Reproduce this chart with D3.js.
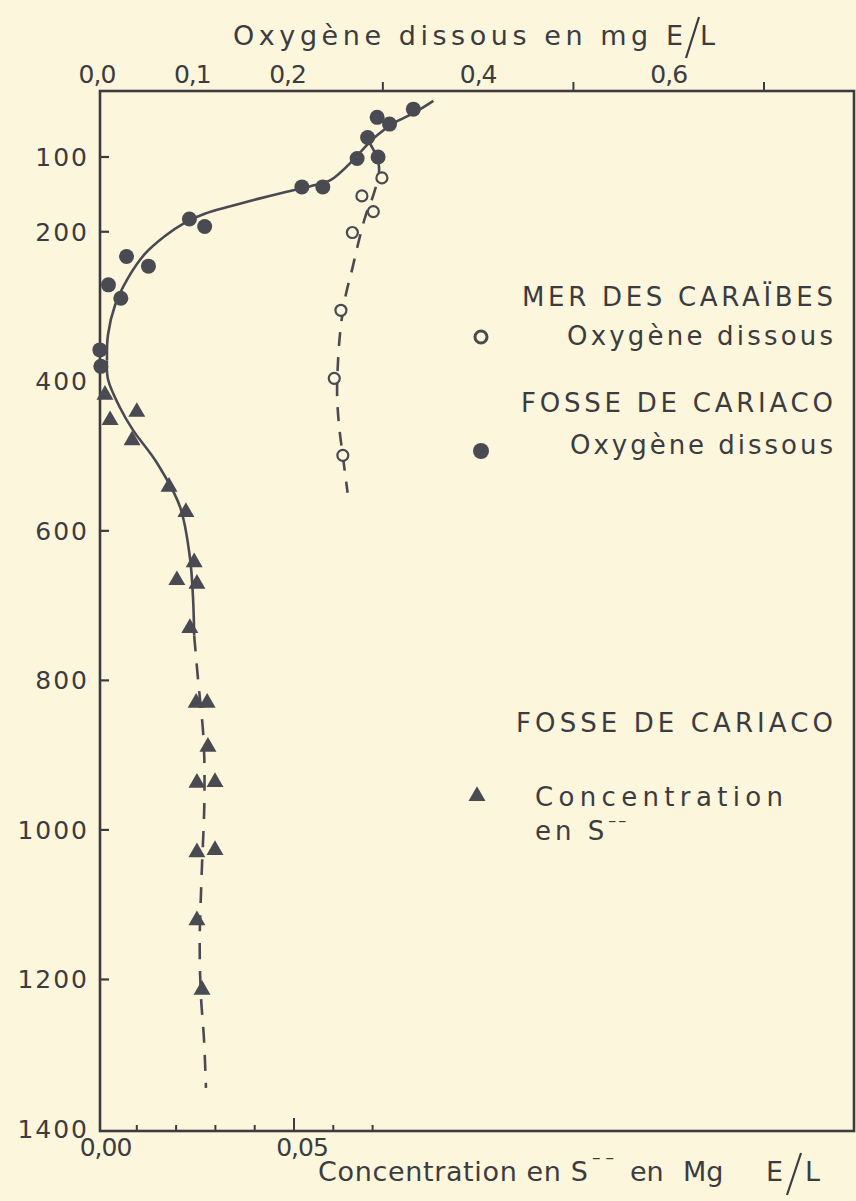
<!DOCTYPE html>
<html>
<head>
<meta charset="utf-8">
<script src="https://cdn.jsdelivr.net/npm/d3@7/dist/d3.min.js"></script>
<style>
  html, body { margin: 0; padding: 0; background: #fcf6dc; }
  svg { display: block; }
  text { font-family: "DejaVu Sans", sans-serif; fill: #3c3c40; }
</style>
</head>
<body>
<svg id="chart" width="856" height="1201"></svg>
<script>
// Depth axis (m)
const depthTicks = [100, 200, 400, 600, 800, 1000, 1200, 1400];
const depthMarks = [100, 200, 600, 800, 1000, 1200];

// Oxygen axis (top), mg E/L
const oxyLabels = [0, 0.1, 0.2, 0.4, 0.6];
const oxyMarks = [0.3, 0.5, 0.7];

// Sulphide axis (bottom), mg E/L
const sulfLabels = [0, 0.05];
const sulfMarks = [0.01, 0.02, 0.03, 0.04, 0.05, 0.06, 0.07];

// Mer des Caraïbes: dissolved oxygen [O2, depth]
const caribO2 = [
  [0.299, 128], [0.278, 152], [0.290, 173], [0.268, 201],
  [0.256, 305], [0.249, 396], [0.258, 499]
];
// Mer des Caraïbes: smoothed profile [O2, depth]
const caribFit = [
  [0.284, 77], [0.294, 101], [0.296, 120], [0.290, 151], [0.282, 178],
  [0.275, 211], [0.268, 249], [0.261, 285], [0.256, 325], [0.253, 372],
  [0.252, 418], [0.254, 459], [0.258, 500], [0.263, 549]
];

// Fosse de Cariaco: dissolved oxygen [O2, depth]
const cariacoO2 = [
  [0.332, 36], [0.294, 47], [0.307, 56], [0.284, 74], [0.295, 100],
  [0.273, 102], [0.237, 140], [0.215, 140], [0.097, 183], [0.113, 193],
  [0.031, 233], [0.054, 246], [0.012, 271], [0.025, 289], [0.003, 358],
  [0.004, 380]
];
// Fosse de Cariaco: smoothed oxygen profile [O2, depth]
const cariacoO2Fit = [
  [0.353, 25], [0.334, 40], [0.311, 55], [0.294, 71], [0.281, 87],
  [0.269, 104], [0.245, 131], [0.224, 139], [0.197, 147], [0.169, 156],
  [0.140, 166], [0.113, 176], [0.092, 188], [0.071, 206], [0.050, 230],
  [0.0325, 262], [0.019, 298], [0.0115, 338], [0.0105, 372]
];

// Fosse de Cariaco: sulphide S-- [S, depth]
const cariacoS = [
  [0.0019, 418], [0.0032, 452], [0.0100, 441], [0.0088, 479],
  [0.0182, 541], [0.0225, 575], [0.0246, 642], [0.0202, 666],
  [0.0253, 671], [0.0235, 730], [0.0251, 830], [0.0279, 830],
  [0.0281, 889], [0.0253, 937], [0.0299, 936], [0.0253, 1030],
  [0.0299, 1027], [0.0253, 1121], [0.0266, 1214]
];
// Fosse de Cariaco: smoothed sulphide profile, solid then dashed [S, depth]
const cariacoSFit = [
  [0.0024, 372], [0.0027, 398], [0.0057, 435], [0.0090, 465],
  [0.0151, 509], [0.0210, 568], [0.0235, 635], [0.0243, 689], [0.0246, 740]
];
const cariacoSDash = [
  [0.0246, 740], [0.0256, 800], [0.0270, 880], [0.0272, 960],
  [0.0265, 1060], [0.0260, 1150], [0.0263, 1220], [0.0271, 1280], [0.0276, 1345]
];

const ink = "#3c3c40";
const markInk = "#4a4a52";

const svg = d3.select("#chart");

const frame = { left: 100, right: 854, top: 91, bottom: 1131 };

const y = d3.scaleLinear().domain([100, 1400]).range([157, 1129]);
const xO = d3.scaleLinear().domain([0, 0.7]).range([97, 764]);
const xS = d3.scaleLinear().domain([0, 0.05]).range([97.5, 294]);

// frame
svg.append("rect")
  .attr("x", frame.left).attr("y", frame.top)
  .attr("width", frame.right - frame.left).attr("height", frame.bottom - frame.top)
  .attr("fill", "none").attr("stroke", ink).attr("stroke-width", 2.6);

// left depth axis
const gy = svg.append("g");
gy.selectAll("line").data(depthMarks).join("line")
  .attr("x1", frame.left).attr("x2", frame.left + 9)
  .attr("y1", d => y(d)).attr("y2", d => y(d))
  .attr("stroke", ink).attr("stroke-width", 2.2);
gy.selectAll("text").data(depthTicks).join("text")
  .attr("x", 89).attr("y", d => y(d) + 9)
  .attr("text-anchor", "end")
  .attr("font-size", 25).attr("letter-spacing", 2)
  .text(d => d);

// top oxygen axis
const gt = svg.append("g");
gt.selectAll("line").data(oxyMarks).join("line")
  .attr("x1", d => xO(d)).attr("x2", d => xO(d))
  .attr("y1", frame.top).attr("y2", frame.top - 9)
  .attr("stroke", ink).attr("stroke-width", 2);
gt.selectAll("text").data(oxyLabels).join("text")
  .attr("x", d => xO(d)).attr("y", 83)
  .attr("text-anchor", "middle")
  .attr("font-size", 25).attr("letter-spacing", -1)
  .text(d => d3.format(".1f")(d).replace(".", ","));

// top title: "Oxygène dissous en mg E/L" with a tall slash
svg.append("text").attr("x", 233).attr("y", 45)
  .attr("font-size", 27).attr("textLength", 450).attr("lengthAdjust", "spacing")
  .text("Oxygène dissous en mg E");
svg.append("line").attr("x1", 686).attr("y1", 58).attr("x2", 699).attr("y2", 17)
  .attr("stroke", ink).attr("stroke-width", 2.2);
svg.append("text").attr("x", 700).attr("y", 45).attr("font-size", 27).text("L");

// bottom sulphide axis
const gb = svg.append("g");
gb.selectAll("line").data(sulfMarks).join("line")
  .attr("x1", d => xS(d)).attr("x2", d => xS(d))
  .attr("y1", frame.bottom).attr("y2", d => frame.bottom - (Math.abs(d - 0.05) < 1e-9 ? 13 : 6))
  .attr("stroke", ink).attr("stroke-width", 2);
gb.selectAll("text").data(sulfLabels).join("text")
  .attr("x", d => xS(d) + 8).attr("y", 1156)
  .attr("text-anchor", "middle")
  .attr("font-size", 25).attr("letter-spacing", -1)
  .text(d => d3.format(".2f")(d).replace(".", ","));

// bottom title: "Concentration en S-- en Mg E/L"
svg.append("text").attr("x", 318).attr("y", 1181)
  .attr("font-size", 27).attr("textLength", 270).attr("lengthAdjust", "spacing")
  .text("Concentration en S");
svg.append("text").attr("x", 592).attr("y", 1163)
  .attr("font-size", 17).attr("textLength", 22).attr("lengthAdjust", "spacing")
  .text("\u2013\u2013");
svg.append("text").attr("x", 630).attr("y", 1181).attr("font-size", 27).text("en");
svg.append("text").attr("x", 683).attr("y", 1181).attr("font-size", 27).text("Mg");
svg.append("text").attr("x", 766).attr("y", 1181).attr("font-size", 27).text("E");
svg.append("line").attr("x1", 787).attr("y1", 1195).attr("x2", 801).attr("y2", 1153)
  .attr("stroke", ink).attr("stroke-width", 2.2);
svg.append("text").attr("x", 805).attr("y", 1181).attr("font-size", 27).text("L");

// profiles
const lineO = d3.line().x(d => xO(d[0])).y(d => y(d[1])).curve(d3.curveCatmullRom.alpha(0.5));
const lineS = d3.line().x(d => xS(d[0])).y(d => y(d[1])).curve(d3.curveCatmullRom.alpha(0.5));

svg.append("path").datum(cariacoO2Fit).attr("d", lineO)
  .attr("fill", "none").attr("stroke", markInk).attr("stroke-width", 2.6);
svg.append("path").datum(cariacoSFit).attr("d", lineS)
  .attr("fill", "none").attr("stroke", markInk).attr("stroke-width", 2.6);
svg.append("path").datum(cariacoSDash).attr("d", lineS)
  .attr("fill", "none").attr("stroke", markInk).attr("stroke-width", 2.6)
  .attr("stroke-dasharray", "16 12");
svg.append("path").datum(caribFit).attr("d", lineO)
  .attr("fill", "none").attr("stroke", markInk).attr("stroke-width", 2.6)
  .attr("stroke-dasharray", "14 11");

// points
svg.append("g").selectAll("circle").data(caribO2).join("circle")
  .attr("cx", d => xO(d[0])).attr("cy", d => y(d[1])).attr("r", 5.5)
  .attr("fill", "#fcf6dc").attr("stroke", markInk).attr("stroke-width", 2.2);
svg.append("g").selectAll("circle").data(cariacoO2).join("circle")
  .attr("cx", d => xO(d[0])).attr("cy", d => y(d[1])).attr("r", 7.5)
  .attr("fill", markInk);
const tri = d3.symbol().type(d3.symbolTriangle).size(125);
svg.append("g").selectAll("path").data(cariacoS).join("path")
  .attr("transform", d => `translate(${xS(d[0])},${y(d[1])})`)
  .attr("d", tri).attr("fill", markInk);

// legend
const leg = svg.append("g").attr("font-size", 26);
leg.append("text").attr("x", 522).attr("y", 306).attr("textLength", 311).text("MER DES CARAÏBES");
leg.append("circle").attr("cx", 481).attr("cy", 337).attr("r", 6)
  .attr("fill", "none").attr("stroke", markInk).attr("stroke-width", 3);
leg.append("text").attr("x", 567).attr("y", 345).attr("textLength", 266).text("Oxygène dissous");
leg.append("text").attr("x", 521).attr("y", 412).attr("textLength", 312).text("FOSSE DE CARIACO");
leg.append("circle").attr("cx", 481).attr("cy", 451).attr("r", 8).attr("fill", markInk);
leg.append("text").attr("x", 570).attr("y", 454).attr("textLength", 263).text("Oxygène dissous");
leg.append("text").attr("x", 516).attr("y", 732).attr("textLength", 317).text("FOSSE DE CARIACO");
leg.append("path").attr("transform", "translate(477,796)").attr("d", tri).attr("fill", markInk);
leg.append("text").attr("x", 535).attr("y", 806).attr("textLength", 248).text("Concentration");
const enS = leg.append("text").attr("x", 535).attr("y", 840).attr("letter-spacing", 4);
enS.append("tspan").text("en S");
enS.append("tspan").attr("font-size", 16).attr("dy", -14).attr("letter-spacing", 2).text("\u2013\u2013");
</script>
</body>
</html>
